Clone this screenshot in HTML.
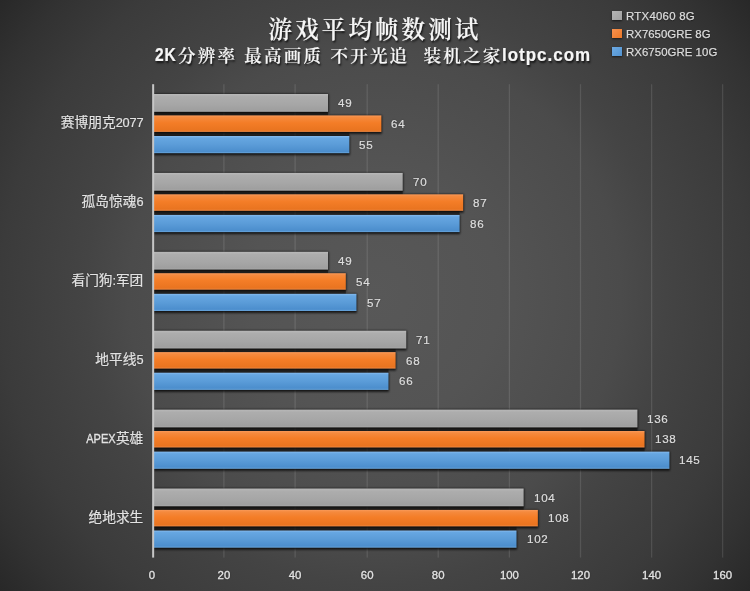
<!DOCTYPE html>
<html lang="zh-CN">
<head>
<meta charset="utf-8">
<title>游戏平均帧数测试</title>
<style>
html,body{margin:0;padding:0;}
body{width:750px;height:591px;overflow:hidden;background:#333;}
#chart{position:relative;width:750px;height:591px;overflow:hidden;
  background:radial-gradient(circle at 375px 295px, #585858 0px, #545454 125px, #4b4b4b 246px, #444444 290px, #3b3b3b 375px, #323232 430px, #282828 477px);
  font-family:"Liberation Sans","Noto Sans CJK SC",sans-serif;color:#e6e6e6;}
#plot{position:absolute;left:0;top:0;width:750px;height:591px;}
#plot .gl{fill:#fff;fill-opacity:.11;}
#plot .sh{fill:#000;fill-opacity:.78;filter:url(#blur);}
#plot .gap{fill:#0c0a08;fill-opacity:.52;}
.title{position:absolute;left:0;width:750px;text-align:center;top:11.8px;height:36px;line-height:36px;
  font-family:"Liberation Serif","Noto Serif CJK SC",serif;font-weight:600;font-size:23.5px;letter-spacing:3.1px;color:#f6f6f6;-webkit-text-stroke:0.2px #f6f6f6;
  text-shadow:1px 1.5px 2px rgba(0,0,0,.75);white-space:nowrap;}
.sub{position:absolute;left:154px;width:590px;text-align:left;top:43px;height:26px;line-height:26px;
  font-family:"Liberation Sans","Noto Serif CJK SC",serif;font-weight:600;font-size:17.5px;letter-spacing:2.24px;color:#f6f6f6;-webkit-text-stroke:0.2px #f6f6f6;
  text-shadow:1px 1.5px 2px rgba(0,0,0,.75);white-space:pre;}
.sub b.k{font-size:15.6px;letter-spacing:1.0px;margin-left:0.9px;margin-right:1.2px;transform:translateY(-0.6px) scaleY(1.19);}
.sub b{font-weight:700;font-size:17px;letter-spacing:1.0px;display:inline-block;transform:translateY(-0.6px) scaleY(1.1);transform-origin:50% 78%;margin-left:-0.6px;}
.xl,.val,.cat{text-shadow:0 0 1.5px rgba(0,0,0,.45);}
.xl{position:absolute;top:566px;width:40px;text-align:center;font-size:11.4px;line-height:18px;color:#e4e4e4;-webkit-text-stroke:0.3px #e4e4e4;}
.cat{position:absolute;left:0;width:143.3px;text-align:right;font-size:13.7px;line-height:20px;color:#e2e2e2;white-space:nowrap;-webkit-text-stroke:0.2px #e2e2e2;}
.cat .l{font-size:12.8px;letter-spacing:-0.2px;}
.cat .n{display:inline-block;font-size:12.2px;letter-spacing:0;transform:scaleX(0.9);transform-origin:100% 50%;-webkit-text-stroke:0.35px #e2e2e2;margin-left:-3px;}
.val{position:absolute;transform-origin:0 50%;font-size:11.6px;letter-spacing:0.7px;line-height:20px;color:#dedede;white-space:nowrap;-webkit-text-stroke:0.22px #dedede;}
.lg{position:absolute;left:612.4px;font-size:11.4px;line-height:16px;color:#dcdcdc;white-space:nowrap;letter-spacing:-0.25px;text-shadow:0 1px 1px rgba(0,0,0,.5);}
.lg i{position:absolute;left:0;top:3.1px;width:9.5px;height:9.2px;box-shadow:0 1px 2px rgba(0,0,0,.6);}
.lg span{position:absolute;left:13.5px;top:-0.6px;transform:translateY(0.6px) rotate(0.01deg);transform-origin:0 50%;-webkit-text-stroke:0.25px #dcdcdc;}
</style>
</head>
<body>
<div id="chart">
<svg id="plot" width="750" height="591" viewBox="0 0 750 591">
<defs>
<linearGradient id="gg" x1="0" y1="0" x2="0" y2="1"><stop offset="0" stop-color="#b9b9b9"/><stop offset=".15" stop-color="#adadad"/><stop offset=".6" stop-color="#a6a6a6"/><stop offset=".9" stop-color="#9f9f9f"/><stop offset="1" stop-color="#a8a8a8"/></linearGradient>
<linearGradient id="go" x1="0" y1="0" x2="0" y2="1"><stop offset="0" stop-color="#f99a5a"/><stop offset=".12" stop-color="#f58a3e"/><stop offset=".45" stop-color="#f47d27"/><stop offset=".9" stop-color="#e97420"/><stop offset="1" stop-color="#f08a45"/></linearGradient>
<linearGradient id="gb" x1="0" y1="0" x2="0" y2="1"><stop offset="0" stop-color="#86bbee"/><stop offset=".12" stop-color="#66a6e1"/><stop offset=".5" stop-color="#5b9cd8"/><stop offset=".9" stop-color="#4c8ecd"/><stop offset="1" stop-color="#6aa6dc"/></linearGradient>
<filter id="blur" x="-5%" y="-30%" width="110%" height="160%"><feGaussianBlur stdDeviation="0.8"/></filter>
</defs>
<rect class="gl" x="223.25" y="84.2" width="1.3" height="473.4"/>
<rect class="gl" x="294.45" y="84.2" width="1.3" height="473.4"/>
<rect class="gl" x="366.55" y="84.2" width="1.3" height="473.4"/>
<rect class="gl" x="437.55" y="84.2" width="1.3" height="473.4"/>
<rect class="gl" x="508.75" y="84.2" width="1.3" height="473.4"/>
<rect class="gl" x="579.85" y="84.2" width="1.3" height="473.4"/>
<rect class="gl" x="650.95" y="84.2" width="1.3" height="473.4"/>
<rect class="gl" x="721.95" y="84.2" width="1.3" height="473.4"/>
<rect class="sh" x="153.75" y="93.90" width="174.77" height="19.80"/>
<rect class="gap" x="153.75" y="111.60" width="174.27" height="4.00"/>
<rect x="153.75" y="94.00" width="174.27" height="17.80" fill="url(#gg)"/>
<rect class="sh" x="153.75" y="115.30" width="228.12" height="18.50"/>
<rect class="gap" x="153.75" y="131.70" width="195.61" height="4.50"/>
<rect x="153.75" y="115.40" width="227.62" height="16.50" fill="url(#go)"/>
<rect class="sh" x="153.75" y="135.90" width="196.11" height="19.20"/>
<rect x="153.75" y="136.00" width="195.61" height="17.20" fill="url(#gb)"/>
<rect class="sh" x="153.75" y="172.80" width="249.46" height="19.80"/>
<rect class="gap" x="153.75" y="190.50" width="248.96" height="4.00"/>
<rect x="153.75" y="172.90" width="248.96" height="17.80" fill="url(#gg)"/>
<rect class="sh" x="153.75" y="194.20" width="309.92" height="18.50"/>
<rect class="gap" x="153.75" y="210.60" width="305.86" height="4.50"/>
<rect x="153.75" y="194.30" width="309.42" height="16.50" fill="url(#go)"/>
<rect class="sh" x="153.75" y="214.80" width="306.36" height="19.20"/>
<rect x="153.75" y="214.90" width="305.86" height="17.20" fill="url(#gb)"/>
<rect class="sh" x="153.75" y="251.70" width="174.77" height="19.80"/>
<rect class="gap" x="153.75" y="269.40" width="174.27" height="4.00"/>
<rect x="153.75" y="251.80" width="174.27" height="17.80" fill="url(#gg)"/>
<rect class="sh" x="153.75" y="273.10" width="192.55" height="18.50"/>
<rect class="gap" x="153.75" y="289.50" width="192.05" height="4.50"/>
<rect x="153.75" y="273.20" width="192.05" height="16.50" fill="url(#go)"/>
<rect class="sh" x="153.75" y="293.70" width="203.22" height="19.20"/>
<rect x="153.75" y="293.80" width="202.72" height="17.20" fill="url(#gb)"/>
<rect class="sh" x="153.75" y="330.60" width="253.01" height="19.80"/>
<rect class="gap" x="153.75" y="348.30" width="241.84" height="4.00"/>
<rect x="153.75" y="330.70" width="252.51" height="17.80" fill="url(#gg)"/>
<rect class="sh" x="153.75" y="352.00" width="242.34" height="18.50"/>
<rect class="gap" x="153.75" y="368.40" width="234.73" height="4.50"/>
<rect x="153.75" y="352.10" width="241.84" height="16.50" fill="url(#go)"/>
<rect class="sh" x="153.75" y="372.60" width="235.23" height="19.20"/>
<rect x="153.75" y="372.70" width="234.73" height="17.20" fill="url(#gb)"/>
<rect class="sh" x="153.75" y="409.50" width="484.18" height="19.80"/>
<rect class="gap" x="153.75" y="427.20" width="483.68" height="4.00"/>
<rect x="153.75" y="409.60" width="483.68" height="17.80" fill="url(#gg)"/>
<rect class="sh" x="153.75" y="430.90" width="491.30" height="18.50"/>
<rect class="gap" x="153.75" y="447.30" width="490.80" height="4.50"/>
<rect x="153.75" y="431.00" width="490.80" height="16.50" fill="url(#go)"/>
<rect class="sh" x="153.75" y="451.50" width="516.19" height="19.20"/>
<rect x="153.75" y="451.60" width="515.69" height="17.20" fill="url(#gb)"/>
<rect class="sh" x="153.75" y="488.40" width="370.38" height="19.80"/>
<rect class="gap" x="153.75" y="506.10" width="369.88" height="4.00"/>
<rect x="153.75" y="488.50" width="369.88" height="17.80" fill="url(#gg)"/>
<rect class="sh" x="153.75" y="509.80" width="384.60" height="18.50"/>
<rect class="gap" x="153.75" y="526.20" width="362.76" height="4.50"/>
<rect x="153.75" y="509.90" width="384.10" height="16.50" fill="url(#go)"/>
<rect class="sh" x="153.75" y="530.40" width="363.26" height="19.20"/>
<rect x="153.75" y="530.50" width="362.76" height="17.20" fill="url(#gb)"/>
<rect x="152.15" y="84.2" width="2.0" height="473.4" fill="#c6c6c6"/>
</svg>
<div class="title">游戏平均帧数测试</div>
<div class="sub"><b class="k">2K</b>分辨率 最高画质 不开光追  装机之家<b>lotpc.com</b></div>
<div class="lg" style="top:8px;letter-spacing:0.27px"><i style="background:linear-gradient(135deg,#b4b4b4,#a0a0a0)"></i><span>RTX4060 8G</span></div>
<div class="lg" style="top:26px;letter-spacing:0.03px"><i style="background:linear-gradient(135deg,#f7914f,#ea7726)"></i><span>RX7650GRE 8G</span></div>
<div class="lg" style="top:44px;letter-spacing:0.06px"><i style="background:linear-gradient(135deg,#6daae4,#5293d0)"></i><span>RX6750GRE 10G</span></div>
<div class="xl" style="left:131.9px">0</div>
<div class="xl" style="left:203.9px">20</div>
<div class="xl" style="left:275.1px">40</div>
<div class="xl" style="left:347.2px">60</div>
<div class="xl" style="left:418.2px">80</div>
<div class="xl" style="left:489.4px">100</div>
<div class="xl" style="left:560.5px">120</div>
<div class="xl" style="left:631.6px">140</div>
<div class="xl" style="left:702.6px">160</div>
<div class="cat" style="top:113px">赛博朋克<span class="l">2077</span></div>
<div class="val" style="top:93px;left:338.0px;transform:translateY(0.05px) rotate(0.01deg)">49</div>
<div class="val" style="top:113px;left:391.4px;transform:translateY(0.80px) rotate(0.01deg)">64</div>
<div class="val" style="top:134px;left:359.4px;transform:translateY(0.75px) rotate(0.01deg)">55</div>
<div class="cat" style="top:192px">孤岛惊魂<span class="l">6</span></div>
<div class="val" style="top:171px;left:412.7px;transform:translateY(0.95px) rotate(0.01deg)">70</div>
<div class="val" style="top:192px;left:473.2px;transform:translateY(0.70px) rotate(0.01deg)">87</div>
<div class="val" style="top:213px;left:469.6px;transform:translateY(0.65px) rotate(0.01deg)">86</div>
<div class="cat" style="top:271px">看门狗<span class="l">:</span>军团</div>
<div class="val" style="top:250px;left:338.0px;transform:translateY(0.85px) rotate(0.01deg)">49</div>
<div class="val" style="top:271px;left:355.8px;transform:translateY(0.60px) rotate(0.01deg)">54</div>
<div class="val" style="top:292px;left:366.5px;transform:translateY(0.55px) rotate(0.01deg)">57</div>
<div class="cat" style="top:350px">地平线<span class="l">5</span></div>
<div class="val" style="top:329px;left:416.3px;transform:translateY(0.75px) rotate(0.01deg)">71</div>
<div class="val" style="top:350px;left:405.6px;transform:translateY(0.50px) rotate(0.01deg)">68</div>
<div class="val" style="top:371px;left:398.5px;transform:translateY(0.45px) rotate(0.01deg)">66</div>
<div class="cat" style="top:429px"><span class="l n">APEX</span>英雄</div>
<div class="val" style="top:408px;left:647.4px;transform:translateY(0.65px) rotate(0.01deg)">136</div>
<div class="val" style="top:429px;left:654.5px;transform:translateY(0.40px) rotate(0.01deg)">138</div>
<div class="val" style="top:450px;left:679.4px;transform:translateY(0.35px) rotate(0.01deg)">145</div>
<div class="cat" style="top:508px">绝地求生</div>
<div class="val" style="top:487px;left:533.6px;transform:translateY(0.55px) rotate(0.01deg)">104</div>
<div class="val" style="top:508px;left:547.9px;transform:translateY(0.30px) rotate(0.01deg)">108</div>
<div class="val" style="top:529px;left:526.5px;transform:translateY(0.25px) rotate(0.01deg)">102</div>
</div>
</body>
</html>
